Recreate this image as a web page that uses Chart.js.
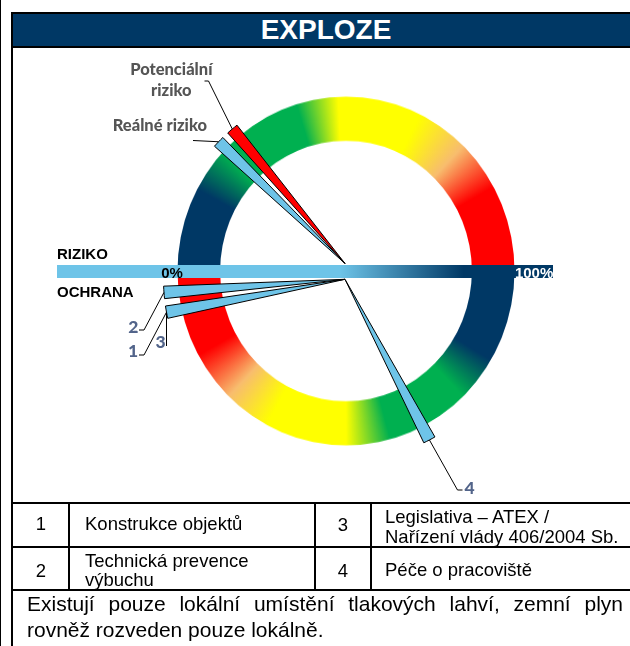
<!DOCTYPE html>
<html><head><meta charset="utf-8">
<script src="https://cdn.jsdelivr.net/npm/chart.js@4.4.1/dist/chart.umd.min.js"></script>
<style>
html,body{margin:0;padding:0;background:#fff;}
body{width:630px;height:646px;position:relative;overflow:hidden;font-family:"Liberation Sans",Arial,sans-serif;color:#000;}
.abs{position:absolute;}
.blk{position:absolute;background:#000;}
#title{position:absolute;left:13px;top:14px;width:626px;height:32px;background:#003865;color:#fff;font-weight:bold;font-size:28px;line-height:32px;text-align:center;}
.cell{position:absolute;font-size:18.5px;line-height:19.5px;white-space:nowrap;}
.num{text-align:center;width:54px;}
.para{position:absolute;left:27px;width:596px;font-size:21px;line-height:25.7px;white-space:nowrap;}
</style></head>
<body>
<div class="blk" style="left:0;top:0;width:1px;height:646px"></div>
<div class="blk" style="left:11px;top:12px;width:2px;height:634px"></div>
<div class="blk" style="left:11px;top:12px;width:619px;height:2px"></div>
<div id="title">EXPLOZE</div>
<div class="blk" style="left:11px;top:46px;width:619px;height:2px"></div>

<div id="ringBox" class="abs" style="left:176px;top:101px;width:340px;height:340px;transform:scaleY(1.035);transform-origin:50% 50%;"><canvas id="ring" width="340" height="340"></canvas></div>
<canvas id="upper" class="abs" width="630" height="500" style="left:0;top:0"></canvas>
<canvas id="lower" class="abs" width="630" height="500" style="left:0;top:0"></canvas>
<canvas id="bar" class="abs" width="496" height="13" style="left:57px;top:265px"></canvas>
<svg id="ann" class="abs" width="630" height="500" style="left:0;top:0" xmlns="http://www.w3.org/2000/svg"></svg>

<!-- table -->
<div class="blk" style="left:13px;top:502px;width:617px;height:2px"></div>
<div class="blk" style="left:13px;top:546px;width:617px;height:2px"></div>
<div class="blk" style="left:13px;top:589px;width:617px;height:2px"></div>
<div class="blk" style="left:68px;top:502px;width:2px;height:89px"></div>
<div class="blk" style="left:314px;top:502px;width:2px;height:89px"></div>
<div class="blk" style="left:370px;top:502px;width:2px;height:89px"></div>
<div class="cell num" style="left:14px;top:513.8px">1</div>
<div class="cell" style="left:85px;top:513.8px">Konstrukce objektů</div>
<div class="cell num" style="left:316px;top:515.3px">3</div>
<div class="cell" style="left:385px;top:507.1px">Legislativa – ATEX /<br>Nařízení vlády 406/2004 Sb.</div>
<div class="cell num" style="left:14px;top:560.8px">2</div>
<div class="cell" style="left:85px;top:550.8px">Technická prevence<br>výbuchu</div>
<div class="cell num" style="left:316px;top:560.5px">4</div>
<div class="cell" style="left:385px;top:560.4px">Péče o pracoviště</div>
<div class="para" style="top:590.9px;text-align:justify;text-align-last:justify;">Existují pouze lokální umístění tlakových lahví, zemní plyn</div>
<div class="para" style="top:616.6px;">rovněž rozveden pouze lokálně.</div>

<script>
// ---------- DATA ----------
const HALVES = ['RIZIKO', 'OCHRANA'];          // two halves of the gauge ring
const HALF_SHARE = [50, 50];
const RISK_NAMES = ['Reálné riziko', 'Potenciální riziko'];
const RISK_VALUES = [24.4, 27.8];               // % on the RIZIKO scale (upper half, from left)
const PROT_IDS = ['1', '2', '3', '4'];
const PROT_VALUES = [5.8, 2.3, 5.8, 65.4];      // % on the OCHRANA scale (lower half, from left)
const SCALE_TICKS = [0, 100];
const SCALE_TICK_LABELS = ['0%', '100%'];
const BAR_EXTENT = [-35.6, 111.6];              // scale band drawn across the gauge

// ---------- STYLE / LAYOUT ----------
const NAVY = '#003865', LIGHT = '#6EC4E8', RED = '#FF0000';
const RISK_COLORS = [LIGHT, RED];
const NEEDLE_W = 2.2;   // needle width in scale units (100 = half circle)
const UPPER = {radius: 175.5, pad: {left: 60, right: 0, top: 27, bottom: 0}};
const LOWER = {radius: 181.5, pad: {left: 60, right: 0, top: 58.6, bottom: 0}};
const RING_STOPS = {
  upper: [[0, NAVY], [0.155, NAVY], [0.24, '#00B050'], [0.405, '#00B050'], [0.485, '#FFFF00'], [0.645, '#FFFF00'], [0.745, '#F8BD6E'], [0.84, RED], [1, RED]],
  lower: [[0, NAVY], [0.17, NAVY], [0.255, '#00B050'], [0.415, '#00B050'], [0.5, '#FFFF00'], [0.655, '#FFFF00'], [0.745, '#F8BD6E'], [0.84, RED], [1, RED]]
};
const LEADERS = {
  'Potenciální riziko': [[208.5, 81], [204.5, 81]],
  'Reálné riziko': [[193, 140.5]],
  '2': [[144, 330], [139, 330]],
  '1': [[144, 355], [139, 355]],
  '3': [[null, 346]],
  '4': [[457.5, 490], [462.5, 490]]
};
const LABEL_POS = {
  'Potenciální riziko': {x: 171.3, y: [75, 96], lines: ['Potenciální', 'riziko'], anchor: 'middle'},
  'Reálné riziko': {x: 207, y: [131], lines: ['Reálné riziko'], anchor: 'end'},
  '1': {x: 133, y: 356.5}, '2': {x: 133.3, y: 333}, '3': {x: 160.5, y: 347.8}, '4': {x: 469.5, y: 494}
};
const HALF_LABEL_POS = [{x: 57, y: 259}, {x: 57, y: 297}];

Chart.defaults.font.family = '"Liberation Sans", Arial, sans-serif';

// ---------- RING ----------
let ringGrad = null;
new Chart(document.getElementById('ring'), {
  type: 'doughnut',
  data: {labels: HALVES, datasets: [{
    data: HALF_SHARE,
    borderWidth: 0,
    backgroundColor: (c) => {
      const a = c.chart.chartArea;
      if (!a) return NAVY;
      if (!ringGrad) {
        ringGrad = c.chart.ctx.createConicGradient(Math.PI, (a.left + a.right) / 2, (a.top + a.bottom) / 2);
        RING_STOPS.upper.forEach(([f, col]) => ringGrad.addColorStop(f * 0.5, col));
        RING_STOPS.lower.forEach(([f, col]) => ringGrad.addColorStop(0.5 + f * 0.5, col));
      }
      return ringGrad;
    }
  }]},
  options: {responsive: false, animation: false, events: [], rotation: -90, circumference: 360,
    radius: 168.5, cutout: '74.7%', layout: {padding: 0},
    plugins: {legend: {display: false}, tooltip: {enabled: false}}}
});

// ---------- NEEDLES ----------
function buildSlices(items) {
  const sorted = items.slice().sort((a, b) => a.pos - b.pos);
  const data = [], bg = [], bw = [], labels = [];
  let cur = 0;
  for (const it of sorted) {
    const s = it.pos - NEEDLE_W / 2;
    if (s < cur - 1e-9) { it.slice = data.length - 1; continue; }
    data.push(s - cur); bg.push('rgba(0,0,0,0)'); bw.push(0); labels.push('');
    data.push(NEEDLE_W); bg.push(it.color); bw.push(1); labels.push(it.key);
    it.slice = data.length - 1;
    cur = s + NEEDLE_W;
  }
  data.push(200 - cur); bg.push('rgba(0,0,0,0)'); bw.push(0); labels.push('');
  return {data, bg, bw, labels, items: sorted};
}
function needleChart(id, items, cfg) {
  const s = buildSlices(items);
  return new Chart(document.getElementById(id), {
    type: 'pie',
    data: {labels: s.labels, datasets: [{data: s.data, backgroundColor: s.bg, borderColor: '#000', borderWidth: s.bw}]},
    options: {responsive: false, animation: false, events: [], rotation: -90, circumference: 360,
      radius: cfg.radius, layout: {padding: cfg.pad},
      plugins: {legend: {display: false}, tooltip: {enabled: false}}},
    plugins: [{
      id: 'leaders',
      afterDatasetsDraw(chart) {
        const ctx = chart.ctx, meta = chart.getDatasetMeta(0);
        ctx.save(); ctx.strokeStyle = '#000'; ctx.lineWidth = 1;
        for (const it of s.items) {
          const path = LEADERS[it.key]; if (!path) continue;
          const el = meta.data[it.slice];
          const mid = (el.startAngle + el.endAngle) / 2;
          const tx = el.x + Math.cos(mid) * el.outerRadius, ty = el.y + Math.sin(mid) * el.outerRadius;
          ctx.beginPath(); ctx.moveTo(tx, ty);
          for (const [px, py] of path) ctx.lineTo(px == null ? tx : px, py);
          ctx.stroke();
        }
        ctx.restore();
      }
    }]
  });
}
needleChart('upper', RISK_VALUES.map((v, i) => ({pos: v, key: RISK_NAMES[i], color: RISK_COLORS[i]})), UPPER);
needleChart('lower', PROT_VALUES.map((v, i) => ({pos: 200 - v, key: PROT_IDS[i], color: LIGHT})), LOWER);

// ---------- SCALE BAR ----------
new Chart(document.getElementById('bar'), {
  type: 'bar',
  data: {labels: ['škála'], datasets: [{
    data: [BAR_EXTENT],
    borderWidth: 0, barPercentage: 1, categoryPercentage: 1,
    backgroundColor: (c) => {
      const a = c.chart.chartArea; if (!a) return LIGHT;
      const g = c.chart.ctx.createLinearGradient(a.left + a.width * 0.57, 0, a.left + a.width * 0.82, 0);
      g.addColorStop(0, LIGHT); g.addColorStop(1, NAVY);
      return g;
    }
  }]},
  options: {indexAxis: 'y', responsive: false, animation: false, events: [], layout: {padding: 0},
    scales: {x: {type: 'linear', min: BAR_EXTENT[0], max: BAR_EXTENT[1], display: false}, y: {display: false}},
    plugins: {legend: {display: false}, tooltip: {enabled: false}}},
  plugins: [{
    id: 'tickText',
    afterDatasetsDraw(chart) {
      const ctx = chart.ctx, x = chart.scales.x;
      ctx.save();
      ctx.font = 'bold 15px "Liberation Sans", Arial, sans-serif';
      ctx.textBaseline = 'alphabetic';
      ctx.fillStyle = '#000'; ctx.textAlign = 'right';
      ctx.fillText(SCALE_TICK_LABELS[0], x.getPixelForValue(SCALE_TICKS[0]) + 6, 12.5);
      ctx.fillStyle = '#fff'; ctx.textAlign = 'left';
      ctx.fillText(SCALE_TICK_LABELS[1], x.getPixelForValue(SCALE_TICKS[1]) + 1, 12.5);
      ctx.restore();
    }
  }]
});

// ---------- ANNOTATION TEXT ----------
const svg = document.getElementById('ann');
const NS = 'http://www.w3.org/2000/svg';
function txt(x, y, s, attrs) {
  const t = document.createElementNS(NS, 'text');
  t.setAttribute('x', x); t.setAttribute('y', y);
  for (const k in attrs) t.setAttribute(k, attrs[k]);
  t.textContent = s; svg.appendChild(t);
}
RISK_NAMES.forEach((n) => {
  const p = LABEL_POS[n];
  p.lines.forEach((ln, i) => txt(p.x, p.y[i], ln, {'text-anchor': p.anchor, 'font-family': 'Lato', 'font-weight': '900', 'font-size': '16.5', fill: '#555555'}));
});
HALVES.forEach((h, i) => txt(HALF_LABEL_POS[i].x, HALF_LABEL_POS[i].y, h, {'font-family': 'Liberation Sans', 'font-weight': 'bold', 'font-size': '15', fill: '#000'}));
PROT_IDS.forEach((id) => {
  const p = LABEL_POS[id];
  txt(p.x, p.y, id, {'text-anchor': 'middle', 'font-family': 'Lato', 'font-weight': '900', 'font-size': '17.5', fill: '#52648A'});
});
</script>
</body></html>
